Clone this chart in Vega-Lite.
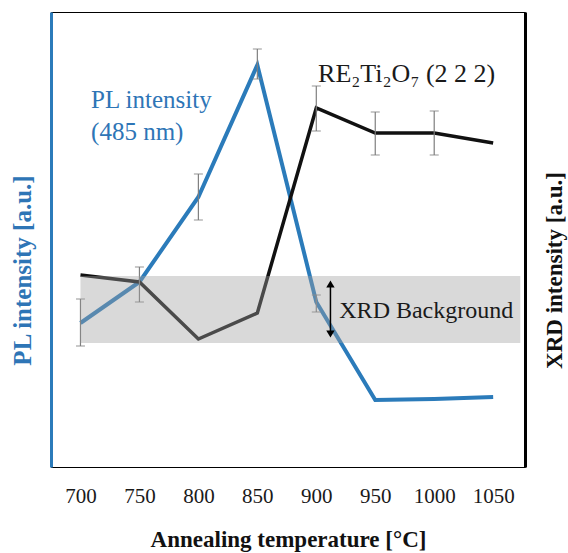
{
  "$schema": "https://vega.github.io/schema/vega-lite/v6.json",
  "width": 474,
  "height": 455,
  "autosize": "none",
  "padding": {"left": 51, "top": 12, "right": 43, "bottom": 86},
  "background": "white",
  "config": {
    "view": {"stroke": "#000000", "strokeWidth": 1},
    "font": "Liberation Serif"
  },
  "datasets": {
    "pl": [
      {"T": 700, "v": 144}, {"T": 750, "v": 185}, {"T": 800, "v": 270}, {"T": 850, "v": 402},
      {"T": 900, "v": 165}, {"T": 950, "v": 67}, {"T": 1000, "v": 68}, {"T": 1050, "v": 70}
    ],
    "xrd": [
      {"T": 700, "v": 192}, {"T": 750, "v": 185}, {"T": 800, "v": 128}, {"T": 850, "v": 154},
      {"T": 900, "v": 359}, {"T": 950, "v": 334}, {"T": 1000, "v": 334}, {"T": 1050, "v": 324}
    ],
    "err": [
      {"T": 700, "lo": 121, "hi": 168}, {"T": 750, "lo": 165, "hi": 200}, {"T": 800, "lo": 247, "hi": 293},
      {"T": 850, "lo": 388, "hi": 418}, {"T": 900, "lo": 155, "hi": 172},
      {"T": 900, "lo": 336, "hi": 381}, {"T": 950, "lo": 312, "hi": 355}, {"T": 1000, "lo": 312, "hi": 356}
    ],
    "band": [{"T": 700, "T2": 1073, "lo": 124, "hi": 191}],
    "arrow": [{"T": 912, "lo": 133, "hi": 183}],
    "heads": [{"T": 912, "v": 183, "s": "triangle-up"}, {"T": 912, "v": 133, "s": "triangle-down"}],
    "pllabels": [
      {"T": 709, "v": 359, "txt": "PL intensity"},
      {"T": 709, "v": 327, "txt": "(485 nm)"}
    ],
    "relabel": [{"T": 901.5, "v": 385, "txt": "RE₂Ti₂O₇ (2 2 2)"}],
    "bglabel": [{"T": 919.5, "v": 149, "txt": "XRD Background"}]
  },
  "resolve": {"axis": {"y": "independent", "x": "independent"}},
  "layer": [
    {
      "data": {"name": "pl"},
      "mark": {"type": "line", "color": "#2b7bba", "strokeWidth": 4},
      "encoding": {
        "x": {
          "field": "T", "type": "quantitative",
          "scale": {"domain": [675, 1077], "nice": false, "zero": false},
          "axis": {
            "values": [700, 750, 800, 850, 900, 950, 1000, 1050], "format": "d",
            "grid": false, "ticks": false, "tickSize": 0, "domain": false,
            "labelFont": "Liberation Serif", "labelFontSize": 21, "labelColor": "#1a1a1a",
            "labelPadding": 18, "labelFlush": false,
            "title": "Annealing temperature [°C]",
            "titleFont": "Liberation Serif", "titleFontSize": 23, "titleFontWeight": "bold",
            "titleColor": "#111111", "titlePadding": 22
          }
        },
        "y": {
          "field": "v", "type": "quantitative",
          "scale": {"domain": [0, 455], "nice": false, "zero": false},
          "axis": {
            "orient": "left", "grid": false, "ticks": false, "labels": false, "tickSize": 0,
            "domainColor": "#2b7bba", "domainWidth": 3,
            "title": "PL intensity [a.u.]",
            "titleFont": "Liberation Serif", "titleFontSize": 25, "titleFontWeight": "bold",
            "titleColor": "#2e75b6", "titleAngle": -90, "titleBaseline": "bottom",
            "titleX": -16, "titleY": 258, "titleAlign": "center"
          }
        }
      }
    },
    {
      "data": {"name": "xrd"},
      "mark": {"type": "line", "color": "#111111", "strokeWidth": 3.5},
      "encoding": {
        "x": {"field": "T", "type": "quantitative", "scale": {"domain": [675, 1077], "nice": false, "zero": false}, "axis": null},
        "y": {
          "field": "v", "type": "quantitative",
          "scale": {"domain": [0, 455], "nice": false, "zero": false},
          "axis": {
            "orient": "right", "grid": false, "ticks": false, "labels": false, "tickSize": 0,
            "domainColor": "#000000", "domainWidth": 3,
            "title": "XRD intensity [a.u.]",
            "titleFont": "Liberation Serif", "titleFontSize": 23, "titleFontWeight": "bold",
            "titleColor": "#111111", "titleAngle": -90, "titleBaseline": "top",
            "titleX": 18, "titleY": 258, "titleAlign": "center"
          }
        }
      }
    },
    {
      "data": {"name": "err"},
      "mark": {"type": "rule", "color": "#7f7f7f", "strokeWidth": 1.2},
      "encoding": {
        "x": {"field": "T", "type": "quantitative", "scale": {"domain": [675, 1077], "nice": false, "zero": false}, "axis": null},
        "y": {"field": "lo", "type": "quantitative", "scale": {"domain": [0, 455], "nice": false, "zero": false}, "axis": null},
        "y2": {"field": "hi"}
      }
    },
    {
      "data": {"name": "err"},
      "mark": {"type": "tick", "color": "#7f7f7f", "orient": "horizontal", "size": 9, "thickness": 1.2},
      "encoding": {
        "x": {"field": "T", "type": "quantitative", "scale": {"domain": [675, 1077], "nice": false, "zero": false}, "axis": null},
        "y": {"field": "lo", "type": "quantitative", "scale": {"domain": [0, 455], "nice": false, "zero": false}, "axis": null}
      }
    },
    {
      "data": {"name": "err"},
      "mark": {"type": "tick", "color": "#7f7f7f", "orient": "horizontal", "size": 9, "thickness": 1.2},
      "encoding": {
        "x": {"field": "T", "type": "quantitative", "scale": {"domain": [675, 1077], "nice": false, "zero": false}, "axis": null},
        "y": {"field": "hi", "type": "quantitative", "scale": {"domain": [0, 455], "nice": false, "zero": false}, "axis": null}
      }
    },
    {
      "data": {"name": "band"},
      "mark": {"type": "rect", "color": "#a0a0a0", "opacity": 0.4},
      "encoding": {
        "x": {"field": "T", "type": "quantitative", "scale": {"domain": [675, 1077], "nice": false, "zero": false}, "axis": null},
        "x2": {"field": "T2"},
        "y": {"field": "lo", "type": "quantitative", "scale": {"domain": [0, 455], "nice": false, "zero": false}, "axis": null},
        "y2": {"field": "hi"}
      }
    },
    {
      "data": {"name": "arrow"},
      "mark": {"type": "rule", "color": "#000000", "strokeWidth": 1.5},
      "encoding": {
        "x": {"field": "T", "type": "quantitative", "scale": {"domain": [675, 1077], "nice": false, "zero": false}, "axis": null},
        "y": {"field": "lo", "type": "quantitative", "scale": {"domain": [0, 455], "nice": false, "zero": false}, "axis": null},
        "y2": {"field": "hi"}
      }
    },
    {
      "data": {"name": "heads"},
      "mark": {"type": "point", "filled": true, "color": "#000000", "size": 70, "opacity": 1},
      "encoding": {
        "x": {"field": "T", "type": "quantitative", "scale": {"domain": [675, 1077], "nice": false, "zero": false}, "axis": null},
        "y": {"field": "v", "type": "quantitative", "scale": {"domain": [0, 455], "nice": false, "zero": false}, "axis": null},
        "shape": {"field": "s", "type": "nominal", "scale": {"domain": ["triangle-up", "triangle-down"], "range": ["triangle-up", "triangle-down"]}, "legend": null}
      }
    },
    {
      "data": {"name": "pllabels"},
      "mark": {"type": "text", "align": "left", "baseline": "alphabetic", "font": "Liberation Serif", "fontSize": 25, "color": "#2e75b6"},
      "encoding": {
        "x": {"field": "T", "type": "quantitative", "scale": {"domain": [675, 1077], "nice": false, "zero": false}, "axis": null},
        "y": {"field": "v", "type": "quantitative", "scale": {"domain": [0, 455], "nice": false, "zero": false}, "axis": null},
        "text": {"field": "txt"}
      }
    },
    {
      "data": {"name": "relabel"},
      "mark": {"type": "text", "align": "left", "baseline": "alphabetic", "font": "Liberation Serif", "fontSize": 26, "color": "#1a1a1a"},
      "encoding": {
        "x": {"field": "T", "type": "quantitative", "scale": {"domain": [675, 1077], "nice": false, "zero": false}, "axis": null},
        "y": {"field": "v", "type": "quantitative", "scale": {"domain": [0, 455], "nice": false, "zero": false}, "axis": null},
        "text": {"field": "txt"}
      }
    },
    {
      "data": {"name": "bglabel"},
      "mark": {"type": "text", "align": "left", "baseline": "alphabetic", "font": "Liberation Serif", "fontSize": 24, "color": "#1a1a1a"},
      "encoding": {
        "x": {"field": "T", "type": "quantitative", "scale": {"domain": [675, 1077], "nice": false, "zero": false}, "axis": null},
        "y": {"field": "v", "type": "quantitative", "scale": {"domain": [0, 455], "nice": false, "zero": false}, "axis": null},
        "text": {"field": "txt"}
      }
    }
  ]
}
